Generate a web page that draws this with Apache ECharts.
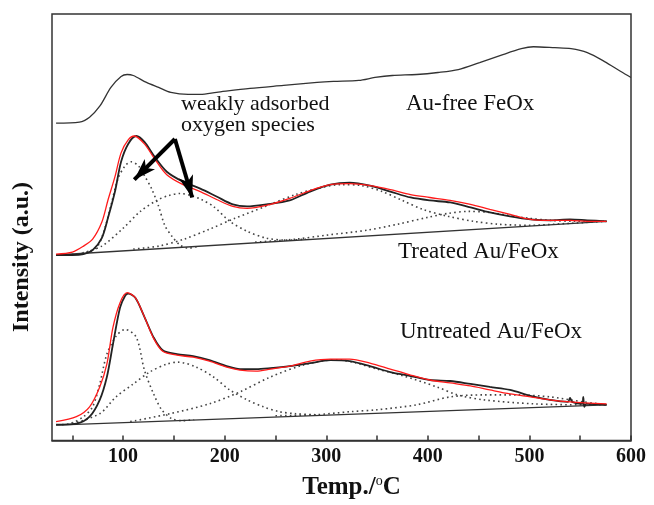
<!DOCTYPE html>
<html>
<head>
<meta charset="utf-8">
<script src="https://cdn.jsdelivr.net/npm/echarts@6/dist/echarts.min.js"></script>
<style>
  html, body { margin: 0; padding: 0; background: #fff; }
  #chart { width: 654px; height: 505px; }
</style>
</head>
<body>
<div id="chart"></div>
<script>
// temperature (deg C) / intensity (a.u.) pairs
var auFree = [[34,320],[57,321],[67,326],[77,337],[88,356],[98,367],[104,369],[110,368],[123,361],[135,356],[147,351],[164,349],[176,349],[192,351],[225,355],[258,358],[291,361],[307,362],[332,363],[348,366],[365,368],[389,369],[410,371],[430,374],[451,381],[471,388],[492,395],[504,397],[525,396],[541,395],[557,391],[574,382],[590,372],[600,366]];

var treatedExp = [[34,187],[50,187],[61,188],[70,192],[79,204],[85,224],[92,251],[98,281],[105,299],[113,307],[121,301],[131,286],[143,271],[159,261],[176,254],[192,246],[208,238],[222,236],[241,238],[264,242],[284,251],[304,258],[323,260],[343,257],[363,251],[383,245],[402,242],[422,240],[442,235],[461,230],[481,226],[501,223],[520,222],[540,223],[557,222],[576,221]];
var treatedFit = [[34,188],[50,190],[61,196],[70,203],[79,220],[85,242],[92,266],[98,290],[105,303],[111,307],[121,299],[131,284],[143,268],[159,258],[176,251],[192,243],[208,236],[222,234],[241,237],[264,244],[284,252],[304,258],[323,259],[343,257],[363,253],[383,248],[402,245],[422,242],[442,238],[461,233],[481,228],[501,223],[520,222],[540,222],[557,221],[576,221]];
var treatedBase = [[34,187],[576,221]];
var treatedPeak1 = [[40,187],[55,188],[65,190],[75,196],[82,214],[88,237],[95,264],[102,277],[108,281],[115,277],[121,267],[128,254],[135,236],[141,217],[148,206],[156,197],[164,194],[175,196]];
var treatedPeak2 = [[60,189],[79,196],[100,214],[117,231],[133,242],[145,247],[156,249],[167,247],[177,243],[189,236],[205,221],[222,211],[241,204],[261,202],[280,203]];
var treatedPeak3 = [[110,193],[135,196],[160,203],[185,213],[210,224],[240,236],[270,248],[295,255],[315,258],[335,257],[355,251],[375,242],[395,233],[420,226],[445,221],[470,218],[500,217],[540,219],[576,221]];
var treatedPeak4 = [[230,200],[270,203],[300,207],[340,212],[370,218],[400,225],[420,229],[440,231],[460,230],[480,227],[500,224],[520,222],[545,221],[576,221]];

var untreatedExp = [[34,16],[54,17],[67,24],[77,41],[84,64],[90,97],[97,134],[102,146],[105,148],[112,144],[120,127],[130,104],[139,91],[153,87],[169,85],[185,81],[202,75],[215,72],[231,72],[245,73],[264,75],[284,78],[304,81],[323,80],[343,75],[363,69],[383,65],[402,61],[422,60],[442,57],[461,54],[481,51],[501,45],[520,41],[538,39],[540,43],[542,39],[552,37],[553,44],[554,34],[556,37],[576,36]];
var untreatedFit = [[34,19],[54,24],[67,34],[77,54],[84,77],[90,114],[97,139],[104,149],[112,144],[120,127],[130,103],[139,90],[153,86],[169,84],[185,80],[202,74],[215,71],[231,70],[245,72],[264,75],[284,80],[304,82],[323,82],[343,78],[363,72],[383,66],[402,61],[422,58],[442,55],[461,51],[481,47],[501,44],[520,41],[540,39],[576,37]];
var untreatedBase = [[34,15.5],[576,36]];
var untreatedPeak1 = [[40,16],[48,17],[61,24],[70,34],[77,57],[84,87],[93,105],[102,112],[113,104],[121,71],[130,47],[138,31],[148,22],[159,20],[170,21]];
var untreatedPeak2 = [[50,17],[77,27],[93,44],[110,57],[126,69],[143,77],[154,79],[172,74],[189,64],[205,51],[222,41],[238,34],[254,29],[270,27],[290,26]];
var untreatedPeak3 = [[107,19],[146,27],[185,37],[215,49],[245,64],[277,76],[304,81],[314,81],[330,78],[350,72],[373,66],[409,54],[429,46],[455,41],[504,37],[553,36],[576,36]];
var untreatedPeak4 = [[250,25],[290,26],[323,29],[350,31],[389,36],[422,44],[455,46],[488,46],[520,44],[553,39],[576,36]];

var xLabels = [100, 200, 300, 400, 500, 600];
var xTicks = [50, 100, 150, 200, 250, 300, 350, 400, 450, 500, 550, 600];

// arrow apex and tips (data coords) for the annotation
var arrowFrom = [151, 304];
var arrowTo = [[111, 263], [168, 245]];

var serif = '"Liberation Serif", "Times New Roman", serif';

function curve(data, color, width, dotted) {
    return {
        type: 'line',
        data: data,
        showSymbol: false,
        symbol: 'none',
        smooth: 0.3,
        silent: true,
        lineStyle: {
            color: color,
            width: width,
            type: dotted ? [1.6, 3.2] : 'solid'
        }
    };
}

var series = [
    curve(treatedPeak1, '#444', 1.6, true),
    curve(treatedPeak2, '#444', 1.6, true),
    curve(treatedPeak3, '#444', 1.6, true),
    curve(treatedPeak4, '#444', 1.6, true),
    curve(untreatedPeak1, '#444', 1.6, true),
    curve(untreatedPeak2, '#444', 1.6, true),
    curve(untreatedPeak3, '#444', 1.6, true),
    curve(untreatedPeak4, '#444', 1.6, true),
    curve(treatedBase, '#333', 1.3),
    curve(untreatedBase, '#333', 1.3),
    curve(auFree, '#333', 1.3),
    curve(treatedExp, '#222', 1.8),
    curve(untreatedExp, '#222', 1.8),
    curve(treatedFit, '#ff1a1a', 1.3),
    curve(untreatedFit, '#ff1a1a', 1.3)
];

// arrows pointing at the two low temperature peaks
series[11].markLine = {
    silent: true,
    symbol: ['none', 'arrow'],
    symbolSize: [11, 22],
    label: { show: false },
    lineStyle: { color: '#000', width: 4, type: 'solid' },
    data: arrowTo.map(function (p) {
        return [{ coord: arrowFrom }, { coord: p }];
    })
};

var chart = echarts.init(document.getElementById('chart'));
chart.setOption({
    animation: false,
    grid: {
        left: 52, top: 14, right: 23, bottom: 61,
        show: true,
        borderColor: '#333',
        borderWidth: 1.5
    },
    xAxis: {
        type: 'value',
        min: 30,
        max: 600,
        name: '{a|Temp./}{s|o}{a|C}',
        nameLocation: 'middle',
        nameGap: 34,
        nameTextStyle: {
            padding: [0, 0, 0, 20],
            rich: {
                a: { fontFamily: serif, fontWeight: 'bold', fontSize: 25, color: '#111' },
                s: { fontFamily: serif, fontSize: 14, color: '#111', padding: [0, 0, 12, 0] }
            }
        },
        axisLine: { show: true, lineStyle: { color: '#333', width: 1.5 } },
        axisTick: { show: true, inside: true, length: 5, customValues: xTicks, lineStyle: { color: '#333', width: 1.5 } },
        axisLabel: {
            customValues: xLabels,
            margin: 6,
            fontFamily: serif,
            fontWeight: 'bold',
            fontSize: 20,
            color: '#111'
        },
        splitLine: { show: false }
    },
    yAxis: {
        type: 'value',
        min: 0,
        max: 430,
        axisLine: { show: false },
        axisTick: { show: false },
        axisLabel: { show: false },
        splitLine: { show: false }
    },
    graphic: [
        {
            type: 'text', x: 22, y: 257, rotation: Math.PI / 2,
            style: { text: 'Intensity (a.u.)', font: 'bold 24px ' + serif, fill: '#111', align: 'center', verticalAlign: 'middle' }
        },
        {
            type: 'text', x: 181, y: 94,
            style: { text: 'weakly adsorbed\noxygen species', font: '22px ' + serif, lineHeight: 21, fill: '#111' }
        },
        {
            type: 'text', x: 406, y: 92,
            style: { text: 'Au-free FeOx', font: '23px ' + serif, fill: '#111' }
        },
        {
            type: 'text', x: 398, y: 240,
            style: { text: 'Treated Au/FeOx', font: '23px ' + serif, fill: '#111' }
        },
        {
            type: 'text', x: 400, y: 320,
            style: { text: 'Untreated Au/FeOx', font: '23px ' + serif, fill: '#111' }
        }
    ],
    series: series
});
</script>
</body>
</html>
